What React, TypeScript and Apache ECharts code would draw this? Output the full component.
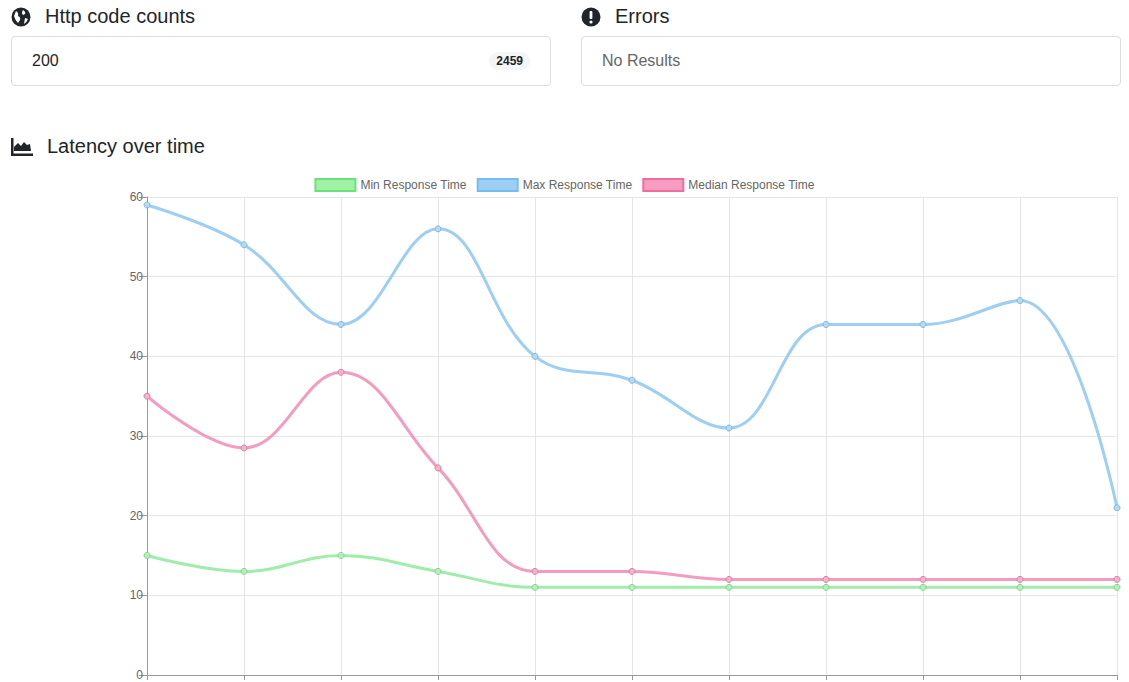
import React, { useEffect, useRef } from "react";
import * as echarts from "echarts";

const categories = ["1", "2", "3", "4", "5", "6", "7", "8", "9", "10", "11"];
const minValues = [15, 13, 15, 13, 11, 11, 11, 11, 11, 11, 11];
const maxValues = [59, 54, 44, 56, 40, 37, 31, 44, 44, 47, 21];
const medianValues = [35, 28.5, 38, 26, 13, 13, 12, 12, 12, 12, 12];

const font = "'Helvetica Neue', Helvetica, Arial, 'Liberation Sans', sans-serif";

const LatencyChart = () => {
  const chartRef = useRef(null);

  useEffect(() => {
    const chart = echarts.init(chartRef.current, null, { renderer: "svg" });

    const mk = (name: string, data: number[], line: string, fill: string, border: string) => ({
      name,
      type: "line",
      data,
      smooth: 0.4,
      symbol: "circle",
      symbolSize: 6,
      showSymbol: true,
      lineStyle: { color: line, width: 3 },
      itemStyle: { color: fill, borderColor: border, borderWidth: 1 },
    });

    chart.setOption({
      animation: false,
      textStyle: { fontFamily: font },
      legend: {
        top: 8,
        left: "center",
        itemWidth: 40,
        itemHeight: 12,
        itemGap: 10,
        icon: "rect",
        textStyle: { color: "#666", fontSize: 12 },
        data: [
          { name: "Min Response Time", itemStyle: { color: "#9ff2a5", borderColor: "#6ee07a", borderWidth: 2 } },
          { name: "Max Response Time", itemStyle: { color: "#9ccff3", borderColor: "#74bdf0", borderWidth: 2 } },
          { name: "Median Response Time", itemStyle: { color: "#f59cc0", borderColor: "#ef6d9e", borderWidth: 2 } },
        ],
      },
      grid: { left: 147, right: 12, top: 32, bottom: 30 },
      xAxis: {
        type: "category",
        data: categories,
        boundaryGap: false,
        axisLine: { lineStyle: { color: "#999" } },
        axisTick: { show: true, lineStyle: { color: "#999" } },
        axisLabel: { show: false },
        splitLine: { show: true, lineStyle: { color: "#e5e5e5" } },
      },
      yAxis: {
        type: "value",
        min: 0,
        max: 60,
        interval: 10,
        axisLine: { show: true, lineStyle: { color: "#999" } },
        axisTick: { show: true, length: 8, lineStyle: { color: "#999" } },
        axisLabel: { color: "#666", fontSize: 12, margin: 4 },
        splitLine: { lineStyle: { color: "#e5e5e5" } },
      },
      series: [
        mk("Min Response Time", minValues, "#9fedaa", "#b8eebf", "#7fd68a"),
        mk("Max Response Time", maxValues, "#9ccff3", "#b5daf5", "#7fb5dd"),
        mk("Median Response Time", medianValues, "#f49cc0", "#f3b3cc", "#d9809f"),
      ],
    });

    return () => chart.dispose();
  }, []);

  return <div ref={chartRef} style={{ position: "absolute", left: 0, top: 165, width: 1129, height: 540 }} />;
};

const box: React.CSSProperties = {
  position: "absolute",
  top: 36,
  height: 50,
  border: "1px solid #ddd",
  borderRadius: 4,
  boxSizing: "border-box",
  display: "flex",
  alignItems: "center",
  fontSize: 16,
};

const title: React.CSSProperties = {
  position: "absolute",
  fontSize: 20,
  color: "#212529",
  display: "flex",
  alignItems: "center",
  gap: 14,
};

const App = () => (
  <div style={{ position: "fixed", inset: 0, overflow: "hidden", background: "#fff", fontFamily: font, color: "#212529" }}>
    <div style={{ ...title, left: 11, top: 5 }}>
      <svg width="20" height="20" viewBox="0 0 20 20">
        <circle cx="10" cy="10" r="9.5" fill="#212529" />
        <path d="M5 4 Q8 6 7 9 Q10 10 9 13 L7 16 Q4 13 3 9 Z M12 3 Q15 5 14 7 L12 8 Q10 6 12 3 Z M14 11 L17 12 Q16 15 13 17 Z" fill="#fff" />
      </svg>
      Http code counts
    </div>
    <div style={{ ...box, left: 11, width: 540, padding: "0 20px", justifyContent: "space-between" }}>
      <span>200</span>
      <span style={{ fontSize: 12, fontWeight: 700, background: "#f4f5f7", borderRadius: 10, padding: "2px 7px" }}>2459</span>
    </div>
    <div style={{ ...title, left: 581, top: 5 }}>
      <svg width="20" height="20" viewBox="0 0 20 20">
        <circle cx="10" cy="10" r="9.5" fill="#212529" />
        <rect x="8.6" y="4" width="2.8" height="8" rx="1" fill="#fff" />
        <circle cx="10" cy="15" r="1.6" fill="#fff" />
      </svg>
      Errors
    </div>
    <div style={{ ...box, left: 581, width: 540, padding: "0 20px", color: "#666" }}>No Results</div>
    <div style={{ ...title, left: 11, top: 135 }}>
      <svg width="22" height="18" viewBox="0 0 22 18">
        <rect x="0" y="0" width="2.5" height="18" fill="#212529" />
        <rect x="0" y="15.5" width="22" height="2.5" fill="#212529" />
        <path d="M3 13 L3 9 L7 5 L10 8 L13 4 L16 7 L19 6 L20 13 Z" fill="#212529" />
      </svg>
      Latency over time
    </div>
    <LatencyChart />
  </div>
);

export default App;
